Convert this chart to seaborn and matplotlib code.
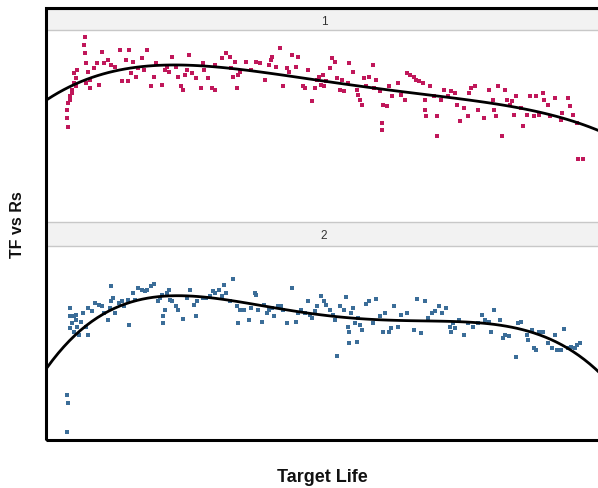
import matplotlib
matplotlib.use("Agg")
import matplotlib.pyplot as plt
import seaborn as sns
import numpy as np
import pandas as pd
from matplotlib.patches import Rectangle

sns.set_style("white")
plt.rcParams['font.family'] = ['Liberation Sans', 'DejaVu Sans']

# ---- data (arbitrary units) ----
panel_labels = ["1", "2"]

life_1 = [80, 75, 75, 80, 85, 90, 95, 100, 95, 105, 100, 90, 85,
          125, 122, 125, 130, 135, 140, 140, 130, 150, 160, 165, 175, 180, 190, 200, 210, 225,
          230, 240, 245, 250, 255, 260, 270, 275, 285, 290, 300, 310, 320, 325, 340, 350, 355,
          360, 370, 380, 385, 395, 400, 405, 410, 418, 425, 435, 450, 455, 460, 470, 480, 490,
          490, 510, 520, 530, 535, 540, 545, 550, 555, 560, 575, 590, 605, 615, 630, 640, 645,
          650, 660, 670, 680, 690, 695, 705, 715, 720, 735, 740, 750, 760, 770, 775, 780, 785,
          790, 795, 800, 810, 815, 825, 830, 840, 845, 850, 860, 865, 875, 885, 890, 895, 900,
          905, 910, 920, 930, 935, 940, 950, 955, 955, 960, 970, 975, 985, 1000, 1010, 1020,
          1025, 1035, 1045, 1050, 1060, 1070, 1075, 1075, 1080, 1090, 1100, 1110, 1110, 1120,
          1130, 1140, 1150, 1160, 1165, 1175, 1185, 1195, 1200, 1205, 1215, 1225, 1240, 1255,
          1265, 1270, 1275, 1280, 1290, 1300, 1305, 1315, 1320, 1325, 1330, 1345, 1350, 1360,
          1370, 1380, 1385, 1395, 1405, 1410, 1420, 1425, 1440, 1455, 1460, 1475, 1480, 1490,
          1500, 1505, 1518]
tfrs_1 = [282, 310, 335, 355, 375, 395, 415, 430, 445, 455, 405, 385, 365,
          553, 530, 505, 475, 450, 425, 400, 415, 460, 475, 410, 510, 475, 485, 470, 465, 515,
          420, 485, 420, 515, 445, 480, 435, 460, 490, 455, 515, 405, 435, 475, 410, 455, 465,
          450, 495, 465, 435, 405, 395, 440, 455, 500, 445, 430, 400, 475, 455, 430, 400, 395,
          470, 490, 505, 495, 460, 435, 480, 400, 440, 450, 480, 455, 480, 475, 425, 470, 485,
          495, 465, 520, 405, 460, 450, 500, 465, 495, 405, 400, 455, 360, 400, 425, 435, 410,
          440, 405, 420, 460, 490, 480, 430, 395, 425, 390, 415, 475, 450, 395, 380, 365, 350,
          430, 405, 435, 470, 400, 425, 390, 295, 275, 350, 345, 405, 375, 415, 380, 365,
          445, 440, 435, 425, 420, 415, 365, 335, 315, 405, 375, 315, 255, 365,
          395, 375, 390, 385, 350, 300, 340, 315, 385, 400, 405, 335, 310, 395,
          365, 335, 315, 405, 255, 395, 365, 350, 360, 320, 375, 340, 285, 320,
          375, 315, 375, 320, 385, 365, 350, 315, 370, 305, 325, 370, 345, 320,
          295, 187, 187]

life_2 = [75, 80, 75,
          85, 85, 90, 85, 95, 100, 100, 105, 95, 110, 115, 120, 130, 135, 135, 145, 155, 165,
          175, 180, 190, 195, 200, 200, 205, 210, 220, 230, 235, 245, 250, 260, 265, 275, 285,
          295, 300, 310, 320, 330, 335, 340, 345, 345, 350, 355, 360, 365, 370, 380, 385, 400,
          410, 420, 430, 435, 440, 455, 465, 475, 485, 490, 500, 510, 515, 520, 530, 540, 550,
          555, 560, 570, 585, 590, 600, 605, 610, 620, 625, 635, 640, 650, 655, 665, 675, 680,
          690, 705, 715, 720, 730, 740, 750, 755, 760, 770, 775, 785, 795, 800, 810, 820, 825,
          830, 840, 850, 855, 860, 865, 865, 870, 875, 880, 885, 890, 895, 900, 910, 920, 930,
          940, 950, 960, 965, 975, 980, 990, 1000, 1010, 1025, 1045, 1055, 1065, 1075, 1085,
          1095, 1105, 1115, 1125, 1135, 1145, 1150, 1155, 1160, 1170, 1185, 1195, 1210, 1225,
          1235, 1245, 1255, 1260, 1270, 1285, 1295, 1300, 1310, 1330, 1335, 1345, 1360, 1365,
          1375, 1380, 1385, 1395, 1405, 1420, 1430, 1440, 1445, 1455, 1465, 1475, 1485, 1495,
          1500, 1510]
tfrs_2 = [130, 108, 20,
          390, 365, 345, 330, 365, 370, 355, 335, 320, 310, 350, 375, 335, 390, 310, 380, 405, 400,
          395, 375, 355, 390, 410, 457, 420, 375, 405, 410, 395, 415, 340, 435, 415, 450, 445,
          440, 445, 455, 463, 410, 420, 430, 365, 345, 385, 435, 445, 415, 410, 395, 385, 357,
          420, 445, 400, 367, 410, 420, 420, 425, 440, 435, 445, 425, 460, 435, 410, 477, 395,
          347, 385, 385, 355, 390, 435, 430, 385, 350, 400, 375, 385, 390, 365, 395, 395, 385,
          347, 450, 350, 375, 385, 375, 410, 370, 360, 380, 395, 425, 410, 400, 385, 370, 355,
          247, 395, 385, 423, 335, 320, 285, 375, 390, 345, 290, 360, 340, 325, 403, 410, 345,
          417, 365, 320, 375, 320, 330, 395, 335, 370, 375, 325, 417, 315, 410, 360,
          375, 380, 397, 375, 390, 335, 320, 345, 330, 355, 310, 345, 335, 345,
          370, 355, 350, 320, 385, 355, 300, 310, 307, 243, 347, 350, 310, 295,
          325, 270, 265, 320, 320, 285, 270, 310, 265, 265, 327, 270, 275, 270,
          280, 285]

life_lim = (20, 1568)
tf_lim = (0, 575)
colors = ["#c0175a", "#3b6d98"]
fit_order = [4, 4]

# ---- layout ----
W, H = 598, 489
fig = plt.figure(figsize=(W / 100, H / 100), dpi=100)

def fx(px):
    return px / W

def fy(py):
    return 1 - py / H

left_px, right_px = 47, 601
panels = [(31, 222), (247, 440)]
strips = [(10, 31), (223, 247)]

data_sets = [(life_1, tfrs_1), (life_2, tfrs_2)]

for i, ((top, bot), (stop, sbot)) in enumerate(zip(panels, strips)):
    ax = fig.add_axes([fx(left_px), fy(bot), fx(right_px - left_px), (bot - top) / H])
    x, y = data_sets[i]
    df = pd.DataFrame({"Target Life": x, "TF vs Rs": y})
    ax.set_xlim(*life_lim)
    ax.set_ylim(*tf_lim)
    sns.regplot(data=df, x="Target Life", y="TF vs Rs", ax=ax, order=fit_order[i],
                ci=None, truncate=False, marker="s",
                scatter_kws={"s": 11, "color": colors[i], "linewidths": 0, "alpha": 1},
                line_kws={"color": "black", "lw": 2.0})
    ax.set_xlim(*life_lim)
    ax.set_ylim(*tf_lim)
    ax.set_xticks([])
    ax.set_yticks([])
    ax.set_xlabel("")
    ax.set_ylabel("")
    for s in ax.spines.values():
        s.set_visible(False)
    # strip header
    sax = fig.add_axes([fx(left_px), fy(sbot), fx(right_px - left_px), (sbot - stop) / H])
    sax.set_facecolor("#f2f2f2")
    sax.set_xticks([])
    sax.set_yticks([])
    for k, s in sax.spines.items():
        s.set_visible(k in ("top", "bottom"))
        s.set_color("#c8c8c8")
        s.set_linewidth(1.0)
    sax.text(0.5, 0.45, panel_labels[i], ha="center", va="center", fontsize=8.5,
             color="#333333", transform=sax.transAxes)

# outer frame
fig.add_artist(Rectangle((fx(46), fy(441)), fx(right_px + 2 - 46), (441 - 9) / H,
                         transform=fig.transFigure, fill=False, edgecolor="black",
                         linewidth=2.2, zorder=10))

fig.text(fx(18), fy(225), "TF vs Rs", rotation=90, ha="center", va="center",
         fontsize=11.5, fontweight="bold", color="#111111")
fig.text(fx(322), fy(478), "Target Life", ha="center", va="center",
         fontsize=13, fontweight="bold", color="#111111")

fig.savefig("out.png", dpi=100)
